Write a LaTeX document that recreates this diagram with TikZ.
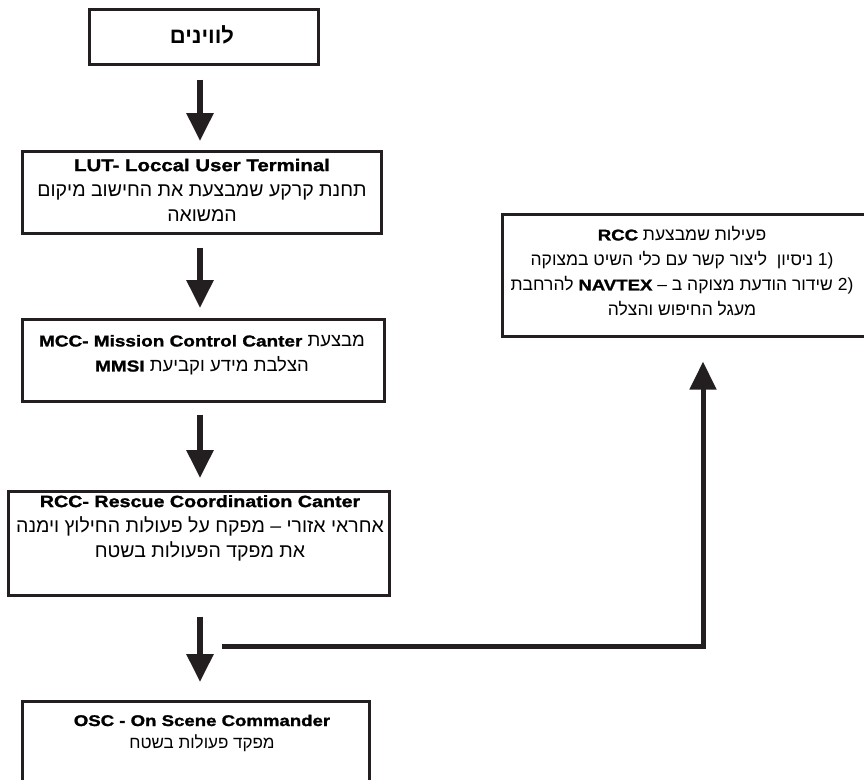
\documentclass[tikz,border=0pt]{standalone}
\usepackage{fontspec}
\setmainfont{Liberation Sans}
\newfontfamily\heb[Script=Hebrew]{Liberation Sans}
\newfontfamily\enbf[FakeStretch=1.2,FakeBold=1.4]{Liberation Sans Bold}
\TeXXeTstate=1
\usetikzlibrary{arrows.meta}
\definecolor{linec}{RGB}{35,31,32}
\newcommand\EnB[2][16]{{\enbf\fontsize{#1}{25}\selectfont #2}}
\newcommand\HebSz[1]{\heb\fontsize{#1}{25}\selectfont}
\begin{document}
\begin{tikzpicture}[x=1pt,y=-1pt,
  box/.style={draw=linec, line width=2.6pt, inner sep=0pt, anchor=north west},
  bigarrow/.style={draw=linec, line width=6pt, -{Triangle[width=26pt,length=28pt]}},
  txt/.style={align=center, inner sep=0pt, text=black, font=\HebSz{17}}]
\useasboundingbox (0,0) rectangle (864,779);
\fill[white] (0,0) rectangle (864,779);
% boxes
\node[box, minimum width=229pt, minimum height=55pt] (sat) at (88,8) {};
\node[box, minimum width=359pt, minimum height=82pt] (lut) at (21,150) {};
\node[box, minimum width=362pt, minimum height=82pt] (mcc) at (21,318) {};
\node[box, minimum width=381pt, minimum height=104pt] (rcc) at (7,490) {};
\node[box, minimum width=375pt, minimum height=122pt] (act) at (501,213) {};
\node[box, minimum width=347pt, minimum height=100pt] (osc) at (21,700) {};
% texts
\node[txt, font=\heb\bfseries\fontsize{22}{25}\selectfont] (satT) at (202,35) {\beginR לווינים\endR};
\node[txt, font=\HebSz{19.5}] (lutT) at (202,190) {\EnB[17]{LUT- Loccal User Terminal}\\
  \beginR תחנת קרקע שמבצעת את החישוב מיקום\endR\\
  \beginR המשואה\endR};
\node[txt, font=\HebSz{18.5}] (mccT) at (202,355) {\beginR מבצעת \beginL\EnB[15.8]{MCC- Mission Control Canter}\endL\endR\\
  \beginR הצלבת מידע וקביעת \beginL\EnB[15.8]{MMSI}\endL\endR};
\node[txt, font=\HebSz{19.5}] (rccT) at (200,528) {\EnB[16.4]{RCC- Rescue Coordination Canter}\\
  \beginR אחראי אזורי – מפקח על פעולות החילוץ וימנה\endR\\
  \beginR את מפקד הפעולות בשטח\endR};
\node[txt, font=\HebSz{17.5}] (actT) at (682,271) {\beginR פעילות שמבצעת \beginL\EnB[15.5]{RCC}\endL\endR\\
  \beginR\beginL(1\endL{} ניסיון~ ליצור קשר עם כלי השיט במצוקה\endR\\
  \beginR\beginL(2\endL{} שידור הודעת מצוקה ב – \beginL\EnB[15.5]{NAVTEX}\endL{} להרחבת\endR\\
  \beginR מעגל החיפוש והצלה\endR};
\node[txt, font=\heb\fontsize{17}{22}\selectfont] (oscT) at (202,733) {\EnB[15.5]{OSC - On Scene Commander}\\
  \beginR מפקד פעולות בשטח\endR};
% connectors
\coordinate (ax) at (200,0);
\coordinate (kx) at (703,0);
\coordinate (j) at (222,646);
\draw[bigarrow] ([yshift=-14pt]sat.south -| ax) -- ([yshift=9pt]lut.north -| ax);
\draw[bigarrow] ([yshift=-13pt]lut.south -| ax) -- ([yshift=10pt]mcc.north -| ax);
\draw[bigarrow] ([yshift=-12pt]mcc.south -| ax) -- ([yshift=12pt]rcc.north -| ax);
\draw[bigarrow] ([yshift=-20pt]rcc.south -| ax) -- ([yshift=18pt]osc.north -| ax);
\draw[bigarrow, line width=5pt] (j) -| ([yshift=-24pt]act.south -| kx);
\end{tikzpicture}
\end{document}
